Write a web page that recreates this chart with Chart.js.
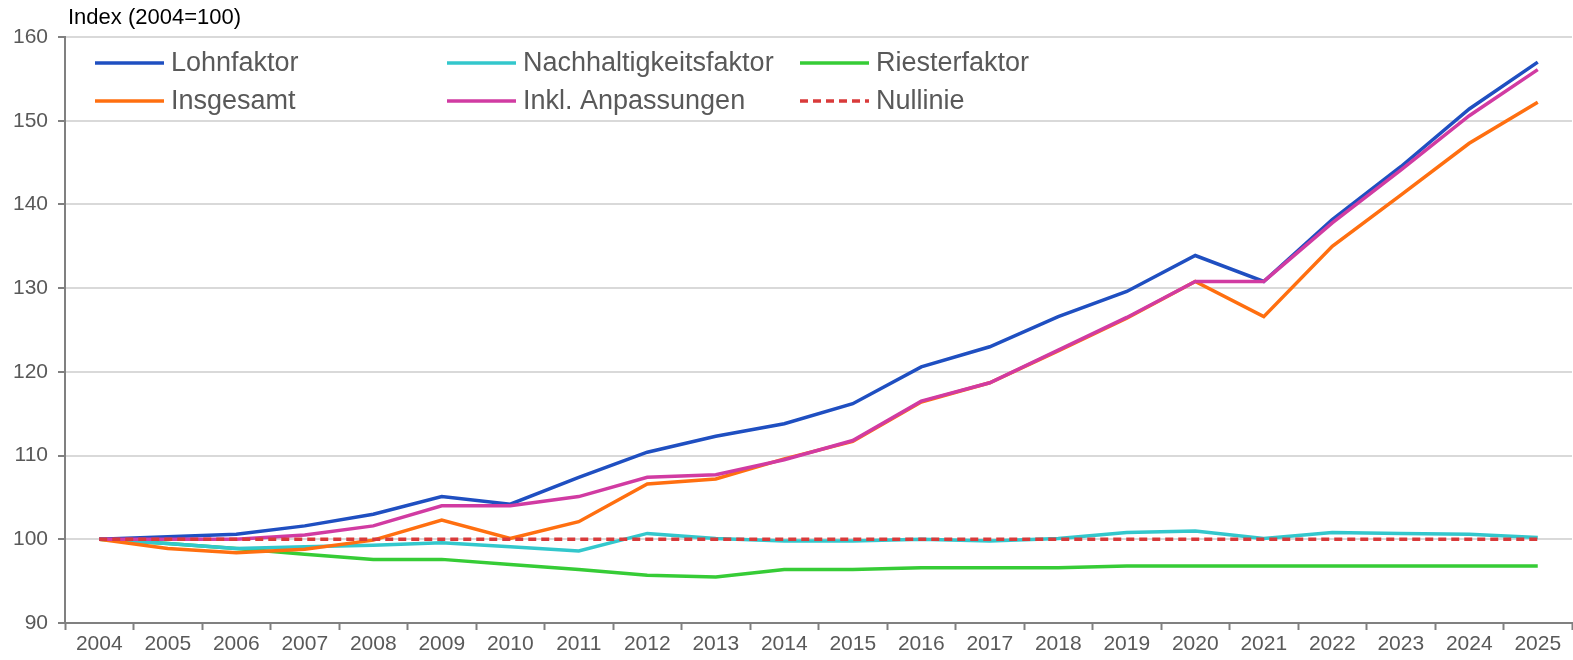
<!DOCTYPE html>
<html lang="de">
<head>
<meta charset="utf-8">
<title>Rentenanpassungsfaktoren</title>
<script src="https://cdn.jsdelivr.net/npm/chart.js@4.4.1/dist/chart.umd.min.js"></script>
<style>
  html, body { margin: 0; padding: 0; background: #ffffff; }
  #wrap { width: 1573px; height: 660px; }
  canvas { display: block; }
</style>
</head>
<body>
<div id="wrap"><canvas id="chart" width="1573" height="660"></canvas></div>
<script>
// Jahre (x-Achse)
const years = ['2004','2005','2006','2007','2008','2009','2010','2011','2012','2013','2014',
               '2015','2016','2017','2018','2019','2020','2021','2022','2023','2024','2025'];

// Indexreihen, 2004 = 100
const lohnfaktor = [100, 100.3, 100.6, 101.6, 103.0, 105.1, 104.2, 107.4, 110.4, 112.3, 113.8,
                    116.2, 120.6, 123.0, 126.6, 129.6, 133.9, 130.8, 138.2, 144.5, 151.4, 157.0];
const nachhaltigkeitsfaktor = [100, 99.5, 98.9, 99.1, 99.3, 99.6, 99.1, 98.6, 100.7, 100.1, 99.8,
                    99.8, 100.0, 99.8, 100.1, 100.8, 101.0, 100.1, 100.8, 100.7, 100.6, 100.2];
const riesterfaktor = [100, 99.5, 98.9, 98.2, 97.6, 97.6, 97.0, 96.4, 95.7, 95.5, 96.4,
                    96.4, 96.6, 96.6, 96.6, 96.8, 96.8, 96.8, 96.8, 96.8, 96.8, 96.8];
const insgesamt = [100, 98.9, 98.4, 98.8, 99.9, 102.3, 100.1, 102.1, 106.6, 107.2, 109.6,
                    111.7, 116.4, 118.7, 122.5, 126.4, 130.8, 126.6, 135.0, 141.1, 147.3, 152.2];
const inklAnpassungen = [100, 100.0, 100.0, 100.5, 101.6, 104.0, 104.0, 105.1, 107.4, 107.7, 109.5,
                    111.8, 116.5, 118.7, 122.6, 126.5, 130.8, 130.8, 137.8, 144.1, 150.6, 156.1];
const nullinie = [100, 100, 100, 100, 100, 100, 100, 100, 100, 100, 100,
                  100, 100, 100, 100, 100, 100, 100, 100, 100, 100, 100];

// y-Achse
const yMin = 90;
const yMax = 160;
const yStep = 10;

const axisTitle = 'Index (2004=100)';
const FONT = '"Liberation Sans", Arial, Helvetica, sans-serif';
const GRAY_TEXT = '#595959';
const AXIS_GRAY = '#808080';
const LINE_W = 3.5;

function series(label, data, color, order, dash) {
  return {
    label, data,
    borderColor: color,
    backgroundColor: color,
    borderWidth: LINE_W,
    borderDash: dash || [],
    borderCapStyle: 'butt',
    borderJoinStyle: 'miter',
    pointRadius: 0,
    pointHoverRadius: 0,
    tension: 0,
    fill: false,
    order
  };
}

// Reihenfolge = Legendenreihenfolge (zeilenweise, drei Spalten)
const datasets = [
  series('Lohnfaktor', lohnfaktor, '#1f4fc1', 2),
  series('Nachhaltigkeitsfaktor', nachhaltigkeitsfaktor, '#33c7cc', 4),
  series('Riesterfaktor', riesterfaktor, '#36cc36', 5),
  series('Insgesamt', insgesamt, '#ff6f10', 3),
  series('Inkl. Anpassungen', inklAnpassungen, '#d13ba2', 1),
  series('Nullinie', nullinie, '#d93a3a', 0, [8, 5])
];

// Legende im Diagrammbereich: drei Spalten, zwei Zeilen
const legendCols = [95, 447, 800];
const legendRows = [63, 101];
const legendPlugin = {
  id: 'gridLegend',
  afterDraw(chart) {
    const ctx = chart.ctx;
    ctx.save();
    chart.data.datasets.forEach((ds, i) => {
      const x = legendCols[i % 3];
      const y = legendRows[Math.floor(i / 3)];
      ctx.beginPath();
      ctx.strokeStyle = ds.borderColor;
      ctx.lineWidth = LINE_W;
      ctx.lineCap = 'butt';
      ctx.setLineDash(ds.borderDash || []);
      ctx.moveTo(x, y);
      ctx.lineTo(x + 69, y);
      ctx.stroke();
      ctx.setLineDash([]);
      ctx.fillStyle = GRAY_TEXT;
      ctx.font = '27px ' + FONT;
      ctx.textAlign = 'left';
      ctx.textBaseline = 'middle';
      ctx.fillText(ds.label, x + 76, y + 1);
    });
    ctx.restore();
  }
};

// Achsentitel oben links
const titlePlugin = {
  id: 'axisTitle',
  afterDraw(chart) {
    const ctx = chart.ctx;
    ctx.save();
    ctx.fillStyle = '#000000';
    ctx.font = '22px ' + FONT;
    ctx.textAlign = 'left';
    ctx.textBaseline = 'alphabetic';
    ctx.fillText(axisTitle, 68, 24);
    ctx.restore();
  }
};

new Chart(document.getElementById('chart'), {
  type: 'line',
  data: { labels: years, datasets },
  options: {
    responsive: false,
    devicePixelRatio: 1,
    animation: false,
    events: [],
    layout: { padding: { top: 37, right: 1, left: 0, bottom: 0 } },
    plugins: {
      legend: { display: false },
      tooltip: { enabled: false },
      title: { display: false }
    },
    scales: {
      x: {
        type: 'category',
        offset: true,
        grid: {
          display: true,
          drawOnChartArea: false,
          drawTicks: true,
          tickLength: 7,
          tickWidth: 2,
          tickColor: AXIS_GRAY,
          offset: true
        },
        border: { display: true, color: AXIS_GRAY, width: 2 },
        ticks: {
          color: GRAY_TEXT,
          font: { family: FONT, size: 21 },
          padding: 2,
          maxRotation: 0,
          minRotation: 0,
          autoSkip: false
        },
        afterFit(scale) { scale.height = 37; }
      },
      y: {
        min: yMin,
        max: yMax,
        ticks: {
          stepSize: yStep,
          color: GRAY_TEXT,
          font: { family: FONT, size: 21 },
          padding: 10
        },
        grid: {
          color: '#d9d9d9',
          lineWidth: 2,
          drawTicks: true,
          tickLength: 7,
          tickWidth: 2,
          tickColor: AXIS_GRAY
        },
        border: { display: true, color: AXIS_GRAY, width: 2 },
        afterFit(scale) { scale.width = 65; }
      }
    }
  },
  plugins: [legendPlugin, titlePlugin]
});
</script>
</body>
</html>
